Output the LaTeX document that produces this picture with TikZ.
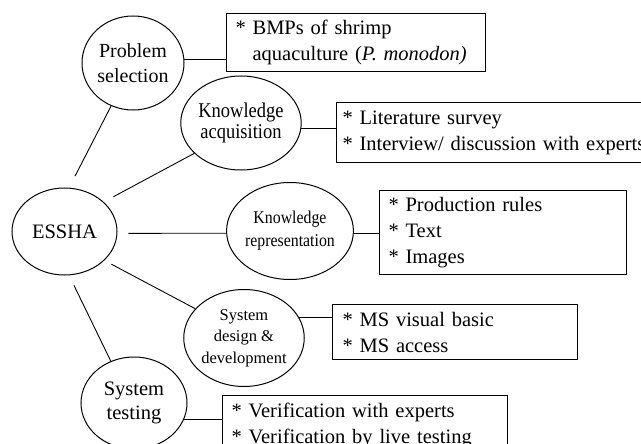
\documentclass[tikz,border=0pt]{standalone}
\usepackage{fontspec}
\setmainfont{Liberation Serif}
\newfontfamily\narrowserif[FakeStretch=0.88]{Liberation Serif}
\usetikzlibrary{shapes.geometric}

\begin{document}
\begin{tikzpicture}[x=1pt, y=-1pt,
          topic/.style={draw, ellipse, line width=1pt, inner sep=0pt, align=center},
          item/.style={draw, rectangle, line width=1pt, align=left, anchor=north west,
                       inner ysep=0pt, font=\fontsize{20.5}{26}\selectfont},
          link/.style={line width=0.9pt}]
        \clip (0,0) rectangle (641,444);
        \node[topic, minimum width=105pt, minimum height=87pt, font=\fontsize{20.5}{25}\selectfont] (essha) at (64.5,231.5) {ESSHA};
        \node[topic, minimum width=102pt, minimum height=94pt, font=\fontsize{20}{25}\selectfont] (prob) at (133,63) {Problem\\selection};
        \node[topic, minimum width=98pt, minimum height=94pt, font=\narrowserif\fontsize{21}{21}\selectfont] (acq) at (241,123) {Knowledge\\acquisition};
        \node[topic, minimum width=107pt, minimum height=97pt, font=\narrowserif\fontsize{18}{23}\selectfont] (rep) at (290,231) {Knowledge\\representation};
        \node[topic, minimum width=104pt, minimum height=97pt, font=\fontsize{16.5}{21.5}\selectfont] (sys) at (244,338) {System\\design \&\\development};
        \node[topic, minimum width=106pt, minimum height=92pt, font=\fontsize{20.5}{24}\selectfont] (test) at (134,403) {System\\testing};
        % boxes
        \node[item, inner xsep=9pt, text width=241pt, minimum height=58pt] (b1) at (226,13) {* BMPs of shrimp\\\hphantom{* }aquaculture (\textit{P. monodon)}};
        \node[item, inner xsep=6pt, text width=330pt, minimum height=60pt] (b2) at (336,102) {* Literature survey\\{*} Interview/ discussion with experts};
        \node[item, inner xsep=9pt, text width=229pt, minimum height=84pt] (b3) at (379,190) {* Production rules\\{*} Text\\{*} Images};
        \node[item, inner xsep=10pt, text width=225pt, minimum height=55pt] (b4) at (332,304) {* MS visual basic\\{*} MS access};
        \node[item, inner xsep=9pt, text width=267pt, minimum height=60pt] (b5) at (222,395) {* Verification with experts\\{*} Verification by live testing};
        % links
        \draw[link] (prob.4) -- (prob.4 -| b1.west);
        \draw[link] (acq.-5) -- (acq.-5 -| b2.west);
        \draw[link] (rep.-2) -- (rep.-2 -| b3.west);
        \draw[link] (sys.20) -- (sys.20 -| b4.west);
        \draw[link] (test.-18) -- (test.-18 -| b5.west);
        \draw[link, shorten <=13pt] (essha.84) -- (prob.-117);
        \draw[link, shorten <=11pt] (essha.37) -- (acq.-147);
        \draw[link, shorten <=11pt] (essha.-2) -- (rep.-178);
        \draw[link, shorten <=8pt] (essha.-36) -- (sys.149);
        \draw[link, shorten <=11pt] (essha.-84) -- (test.119);
      \end{tikzpicture}
\end{document}
